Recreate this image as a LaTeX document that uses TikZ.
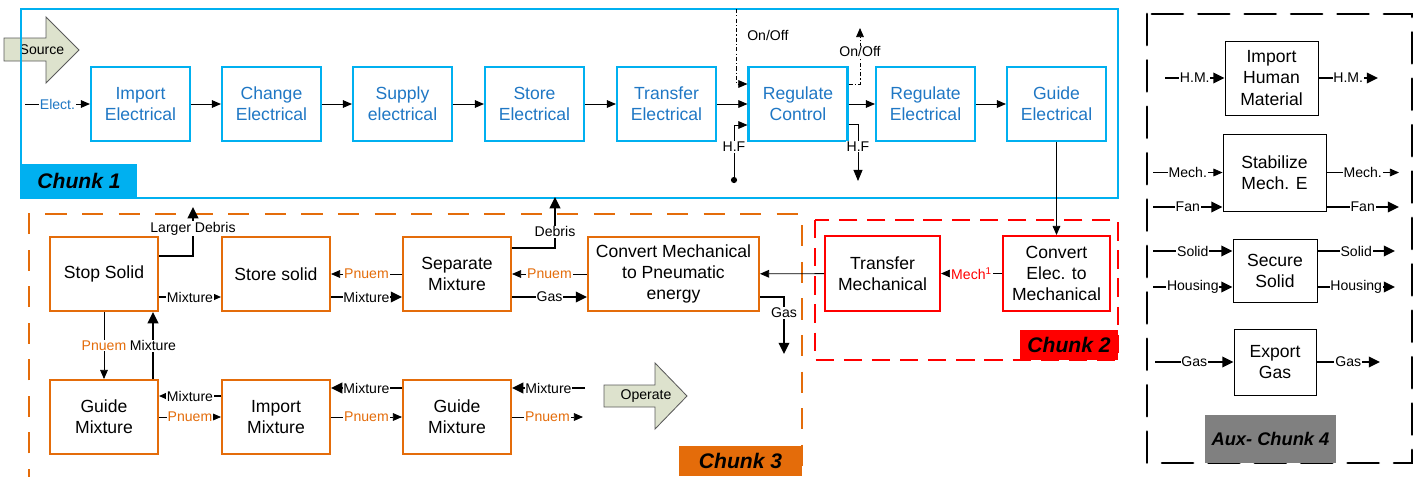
\documentclass[tikz,border=0pt]{standalone}
\usepackage{fontspec}
\setmainfont{Liberation Sans}
\usepackage{xcolor}
\usepackage{tikz}
\usetikzlibrary{arrows.meta,calc}
\definecolor{chunkcyan}{RGB}{0,176,240}
\definecolor{boxblue}{RGB}{31,119,196}
\definecolor{chunkorange}{RGB}{228,108,10}
\definecolor{chunkred}{RGB}{255,0,0}
\definecolor{auxgray}{RGB}{128,128,128}
\definecolor{arrowfill}{RGB}{221,226,205}
\definecolor{arrowedge}{RGB}{90,90,90}

\begin{document}
\begin{tikzpicture}
    [x=0.025cm, y=-0.025cm,
     BoxText/.style={font=\fontsize{12.5}{15}\selectfont, align=center, inner sep=0pt},
     C1Box/.style={BoxText, rectangle, draw=chunkcyan, line width=1.5pt, text=boxblue, minimum width=2.475cm, minimum height=1.85cm},
     C2Box/.style={BoxText, rectangle, draw=chunkred, line width=1.4pt, minimum height=1.875cm},
     C3Box/.style={BoxText, rectangle, draw=chunkorange, line width=1.4pt, minimum width=2.7cm, minimum height=1.85cm},
     AuxBox/.style={BoxText, rectangle, draw=black, line width=0.6pt},
     ChunkTag/.style={font=\bfseries\itshape\fontsize{15}{15}\selectfont, inner sep=0pt},
     Lbl/.style={fill=white, inner sep=0.6pt, font=\fontsize{10}{11}\selectfont},
     Pn/.style={Lbl, text=chunkorange},
     Flow/.style={line width=0.6pt, -{Triangle[length=6.5pt,width=5.5pt]}},
     Heavy/.style={line width=1.4pt, -{Triangle[length=8pt,width=7.5pt]}},
     Signal/.style={line width=0.6pt, dash pattern=on 3pt off 1.5pt on 0.8pt off 1.5pt, -{Triangle[length=6.5pt,width=5.5pt]}},
     BlockArrow/.style={draw=arrowedge, fill=arrowfill, line width=0.6pt}]
    \useasboundingbox (0,0) rectangle (1420,476);

    % block arrows
    \draw[BlockArrow] (4,38) -- (46,38) -- (46,17) -- (79,50) -- (46,83) -- (46,61) -- (4,61) -- cycle;
    \node[font=\fontsize{10}{11}\selectfont] (Source) at (42,50) {Source};
    \draw[BlockArrow] (604,385) -- (655,385) -- (655,363) -- (687,396) -- (655,429) -- (655,407) -- (604,407) -- cycle;
    \node[font=\fontsize{10}{11}\selectfont] (Operate) at (646,396) {Operate};

    % chunk frames
    \draw[chunkcyan, line width=1.4pt] (21,9) rectangle (1118,198);
    \draw[chunkorange, line width=1.2pt, dash pattern=on 15pt off 11pt] (29,490) -- (29,214) -- (802,214) -- (802,490);
    \draw[chunkred, line width=1.1pt, dash pattern=on 13pt off 7pt] (815,220) rectangle (1118,360);
    \draw[black, line width=2pt, dash pattern=on 22pt off 11pt, line cap=round] (1147,14) rectangle (1412,463);
    \node[ChunkTag, fill=chunkcyan, minimum width=2.9cm, minimum height=0.85cm] (C1-Tag) at (79,181) {Chunk 1};
    \node[ChunkTag, fill=chunkred, minimum width=2.45cm, minimum height=0.75cm] (C2-Tag) at (1069,345) {Chunk 2};
    \node[ChunkTag, fill=chunkorange, minimum width=3.075cm, minimum height=0.75cm] (C3-Tag) at (740.5,461) {Chunk 3};
    \node[ChunkTag, font=\bfseries\itshape\fontsize{13}{13}\selectfont, fill=auxgray, minimum width=3.275cm, minimum height=1.2cm] (A-Tag) at (1270.5,439) {Aux- Chunk 4};

    % chunk 1
    \foreach \name/\x/\txt in {Import/140.5/{Import\\Electrical}, Change/271.5/{Change\\Electrical},
        Supply/402.5/{Supply\\electrical}, Store/534.5/{Store\\Electrical}, Transfer/666.5/{Transfer\\Electrical},
        RegCtrl/798/{Regulate\\Control}, RegElec/925.5/{Regulate\\Electrical}, Guide/1056.5/{Guide\\Electrical}}
        \node[C1Box] (C1-\name) at (\x,104) {\txt};
    \coordinate (C1-Elect) at (25,104);
    \draw[Flow] (C1-Elect) -- (C1-Import) node[Lbl, text=boxblue, midway] {Elect.};
    \foreach \a/\b in {Import/Change, Change/Supply, Supply/Store, Store/Transfer,
        Transfer/RegCtrl, RegCtrl/RegElec, RegElec/Guide}
        \draw[Flow] (C1-\a) -- (C1-\b);
    \coordinate (C1-OnOffIn) at (736,9);
    \draw[Signal] (C1-OnOffIn) |- ($(C1-RegCtrl.west)+(0,-20)$);
    \node[font=\fontsize{10}{11}\selectfont, anchor=west, inner sep=0pt] (C1-OnOffTxt) at (747,35) {On/Off};
    \coordinate (C1-HFIn) at (734,180);
    \fill (C1-HFIn) circle (2.2pt);
    \draw[Flow] (C1-HFIn) |- ($(C1-RegCtrl.west)+(0,21)$) node[Lbl, pos=0.3] {H.F};
    \coordinate (C1-OnOffOut) at (860,28);
    \draw[Signal] ($(C1-RegCtrl.east)+(0,-20)$) -| (C1-OnOffOut) node[Lbl, pos=0.79] {On/Off};
    \coordinate (C1-HFOut) at (858,181);
    \draw[Flow, -{Triangle[length=8pt,width=6.5pt]}] ($(C1-RegCtrl.east)+(0,20)$) -| (C1-HFOut) node[Lbl, pos=0.7] {H.F};

    % chunk 2
    \node[C2Box, minimum width=2.875cm] (C2-Transfer) at (882.5,273.5) {Transfer\\Mechanical};
    \node[C2Box, minimum width=2.675cm] (C2-Convert) at (1056.5,273.5) {Convert\\Elec. to\\Mechanical};
    \draw[Flow] (C1-Guide) -- (C2-Convert);
    \draw[Flow] (C2-Convert) -- (C2-Transfer) node[Lbl, midway, text=chunkred] {Mech\textsuperscript{1}};

    % chunk 3
    \foreach \name/\x/\y/\txt in {Stop/104/274/{Stop Solid}, Store/276/274/{Store solid},
        Separate/457/274/{Separate\\Mixture}, GuideL/104/417/{Guide\\Mixture},
        Import/276/417/{Import\\Mixture}, GuideR/457/417/{Guide\\Mixture}}
        \node[C3Box] (C3-\name) at (\x,\y) {\txt};
    \node[C3Box, minimum width=4.275cm] (C3-Convert) at (673.5,274) {Convert Mechanical\\to Pneumatic\\energy};
    \draw[Flow] (C2-Transfer) -- (C3-Convert);
    \coordinate (C3-LDOut) at (193,207);
    \draw[Heavy] ($(C3-Stop.east)+(0,-18)$) -| (C3-LDOut) node[Lbl, pos=0.78] {Larger Debris};
    \draw[Flow, line width=1pt] ($(C3-Stop.east)+(0,23)$) -- ($(C3-Store.west)+(0,23)$) node[Lbl, midway] {Mixture};
    \draw[Flow] (C3-Separate) -- (C3-Store) node[Pn, midway] {Pnuem};
    \draw[Heavy] ($(C3-Store.east)+(0,23)$) -- ($(C3-Separate.west)+(0,23)$) node[Lbl, midway] {Mixture};
    \coordinate (C3-DebrisOut) at (555,197);
    \draw[Heavy] ($(C3-Separate.east)+(0,-26)$) -| (C3-DebrisOut) node[Lbl, pos=0.66] {Debris};
    \draw[Flow] (C3-Convert) -- (C3-Separate) node[Pn, midway] {Pnuem};
    \draw[Heavy] ($(C3-Separate.east)+(0,23)$) -- ($(C3-Convert.west)+(0,23)$) node[Lbl, midway] {Gas};
    \coordinate (C3-GasOut) at (784,354);
    \draw[Heavy] ($(C3-Convert.east)+(0,23)$) -| (C3-GasOut) node[Lbl, pos=0.64] {Gas};
    \draw[Flow] (C3-Stop) -- (C3-GuideL) node[Pn, midway] {Pnuem};
    \draw[Heavy] ($(C3-GuideL.north)+(49,0)$) -- ($(C3-Stop.south)+(49,0)$) node[Lbl, midway] {Mixture};
    \draw[Flow, line width=1pt] ($(C3-Import.west)+(0,-21)$) -- ($(C3-GuideL.east)+(0,-21)$) node[Lbl, midway] {Mixture};
    \draw[Flow] (C3-GuideL) -- (C3-Import) node[Pn, midway] {Pnuem};
    \draw[Heavy] ($(C3-GuideR.west)+(0,-29)$) -- ($(C3-Import.east)+(0,-29)$) node[Lbl, midway] {Mixture};
    \draw[Flow] (C3-Import) -- (C3-GuideR) node[Pn, midway] {Pnuem};
    \coordinate (C3-MixIn) at (585,388);
    \coordinate (C3-PnOut) at (583,417);
    \draw[Heavy] (C3-MixIn) -- ($(C3-GuideR.east)+(0,-29)$) node[Lbl, midway] {Mixture};
    \draw[Flow] (C3-GuideR) -- (C3-PnOut) node[Pn, midway] {Pnuem};

    % aux chunk 4
    \node[AuxBox, minimum width=2.325cm, minimum height=1.85cm] (A-Import) at (1271.5,78) {Import\\Human\\Material};
    \node[AuxBox, minimum width=2.575cm, minimum height=1.925cm] (A-Stab) at (1274.5,172.5) {Stabilize\\Mech. E};
    \node[AuxBox, minimum width=2.1cm, minimum height=1.575cm] (A-Secure) at (1275,270.5) {Secure\\Solid};
    \node[AuxBox, minimum width=2.05cm, minimum height=1.65cm] (A-Export) at (1275,362) {Export\\Gas};
    \coordinate (A-HMIn) at (1165,78);
    \coordinate (A-HMOut) at (1378,78);
    \draw[Heavy] (A-HMIn) -- (A-Import) node[Lbl, midway] {H.M.};
    \draw[Heavy] (A-Import) -- (A-HMOut) node[Lbl, midway] {H.M.};
    \coordinate (A-MechIn) at (1153,172.5);
    \coordinate (A-MechOut) at (1399,172.5);
    \draw[Flow] (A-MechIn) -- (A-Stab) node[Lbl, midway] {Mech.};
    \draw[Flow] (A-Stab) -- (A-MechOut) node[Lbl, midway] {Mech.};
    \coordinate (A-FanIn) at (1153,207);
    \coordinate (A-FanOut) at (1399,207);
    \draw[Heavy] (A-FanIn) -- ($(A-Stab.west)+(0,34.5)$) node[Lbl, midway] {Fan};
    \draw[Heavy] ($(A-Stab.east)+(0,34.5)$) -- (A-FanOut) node[Lbl, midway] {Fan};
    \coordinate (A-SolidIn) at (1153,251);
    \coordinate (A-SolidOut) at (1395,251);
    \draw[Heavy] (A-SolidIn) -- ($(A-Secure.west)+(0,-19.5)$) node[Lbl, midway] {Solid};
    \draw[Heavy] ($(A-Secure.east)+(0,-19.5)$) -- (A-SolidOut) node[Lbl, midway] {Solid};
    \coordinate (A-HousingIn) at (1153,287);
    \coordinate (A-HousingOut) at (1395,287);
    \draw[Heavy] (A-HousingIn) -- ($(A-Secure.west)+(0,16.5)$) node[Lbl, midway] {Housing};
    \draw[Heavy] ($(A-Secure.east)+(0,16.5)$) -- (A-HousingOut) node[Lbl, midway] {Housing};
    \coordinate (A-GasIn) at (1155,362);
    \coordinate (A-GasOut) at (1380,362);
    \draw[Heavy] (A-GasIn) -- (A-Export) node[Lbl, midway] {Gas};
    \draw[Heavy] (A-Export) -- (A-GasOut) node[Lbl, midway] {Gas};
\end{tikzpicture}
\end{document}
